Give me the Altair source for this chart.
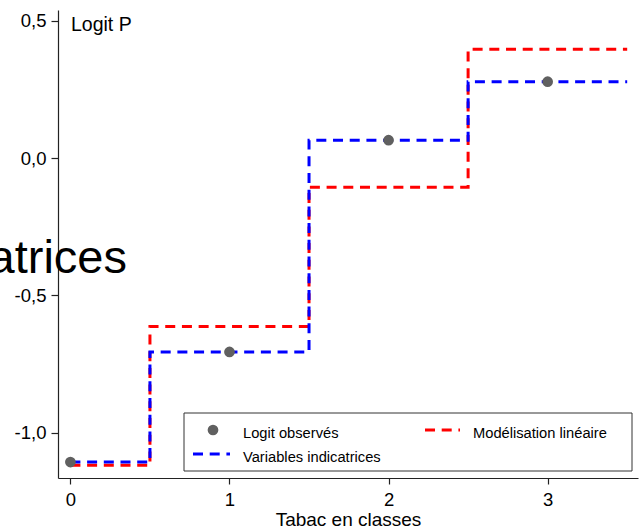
import altair as alt
import pandas as pd

# Tobacco classes and logit values
categories = [0, 1, 2, 3]
logit_observes = [-1.107, -0.706, 0.065, 0.278]
variables_indicatrices = [-1.107, -0.706, 0.065, 0.278]
modelisation_lineaire = [-1.119, -0.613, -0.106, 0.396]

x_ticks = [0, 1, 2, 3]
y_ticks = [-1.0, -0.5, 0.0, 0.5]

FONT = "Liberation Sans"
RED = "#ff0000"
BLUE = "#0000ff"
GREY = "#606060"
DASH = [10, 6.7]

# step boundaries: each class spans +/- 0.5 around its value, first starts at 0
breaks = [categories[0]] + [c + 0.5 for c in categories]


def step_frame(values):
    ys = values + [values[-1]]
    return pd.DataFrame({"x": breaks, "y": ys})


points = pd.DataFrame({"x": categories, "y": logit_observes})

x_scale = alt.Scale(domain=[-0.078, 3.568], nice=False, zero=False)
y_scale = alt.Scale(domain=[-1.165, 0.539], nice=False, zero=False)

x_axis = alt.Axis(
    values=x_ticks, format="d", title="Tabac en classes", grid=False,
    tickSize=6, labelPadding=6, titleY=47, titleBaseline="alphabetic",
)
y_axis = alt.Axis(
    values=y_ticks, grid=False, title=None, tickSize=7, labelPadding=5,
    labelExpr="replace(replace(format(datum.value, '.1f'), '.', ','), '\u2212', '-')",
)

red_line = alt.Chart(step_frame(modelisation_lineaire)).mark_line(
    interpolate="step-after", color=RED, strokeWidth=3, strokeDash=DASH
).encode(
    x=alt.X("x:Q", scale=x_scale, axis=x_axis),
    y=alt.Y("y:Q", scale=y_scale, axis=y_axis),
)

blue_line = alt.Chart(step_frame(variables_indicatrices)).mark_line(
    interpolate="step-after", color=BLUE, strokeWidth=3, strokeDash=DASH
).encode(x=alt.X("x:Q", scale=x_scale), y=alt.Y("y:Q", scale=y_scale))

dots = alt.Chart(points).mark_point(
    filled=True, shape="circle", size=115, color=GREY, opacity=1
).encode(x=alt.X("x:Q", scale=x_scale), y=alt.Y("y:Q", scale=y_scale))

one = alt.Data(values=[{}])

y_title = alt.Chart(one).mark_text(
    text="Logit P", font=FONT, fontSize=19.5, align="left", baseline="alphabetic", color="black"
).encode(x=alt.value(13), y=alt.value(20.7))

big_text = alt.Chart(one).mark_text(
    text="Variables indicatrices", font=FONT, fontSize=47, align="right",
    baseline="alphabetic", color="black"
).encode(x=alt.value(69), y=alt.value(263))

# legend box
legend_box = alt.Chart(one).mark_rect(
    fill="white", stroke="#333333", strokeWidth=1
).encode(x=alt.value(126), x2=alt.value(574), y=alt.value(403), y2=alt.value(461))

leg_dot = alt.Chart(one).mark_point(
    filled=True, shape="circle", size=115, color=GREY, opacity=1
).encode(x=alt.value(155), y=alt.value(420))

leg_red = alt.Chart(one).mark_rule(color=RED, strokeWidth=3, strokeDash=DASH).encode(
    x=alt.value(367), x2=alt.value(402), y=alt.value(420)
)
leg_blue = alt.Chart(one).mark_rule(color=BLUE, strokeWidth=3, strokeDash=DASH).encode(
    x=alt.value(135), x2=alt.value(172), y=alt.value(444)
)


def leg_text(label, x, y):
    return alt.Chart(one).mark_text(
        text=label, font=FONT, fontSize=14.7, align="left", baseline="alphabetic", color="black"
    ).encode(x=alt.value(x), y=alt.value(y))


chart = alt.layer(
    red_line, blue_line, dots, y_title, big_text,
    legend_box, leg_dot, leg_red, leg_blue,
    leg_text("Logit observés", 185, 427.7),
    leg_text("Modélisation linéaire", 415, 428),
    leg_text("Variables indicatrices", 185, 452),
).properties(
    width=580, height=468,
    background="white",
    autosize=alt.AutoSizeParams(type="none"),
    padding={"left": 58, "top": 10, "right": 5, "bottom": 50},
).configure_view(
    stroke=None
).configure_axis(
    domainColor="#222222", tickColor="#222222", labelColor="black", titleColor="black",
    labelFont=FONT, titleFont=FONT, labelFontSize=18.5, titleFontSize=19,
    titleFontWeight="normal", domainWidth=1.2, tickWidth=1.2,
)

chart.save("out.html", embed_options={"renderer": "svg", "actions": False})
